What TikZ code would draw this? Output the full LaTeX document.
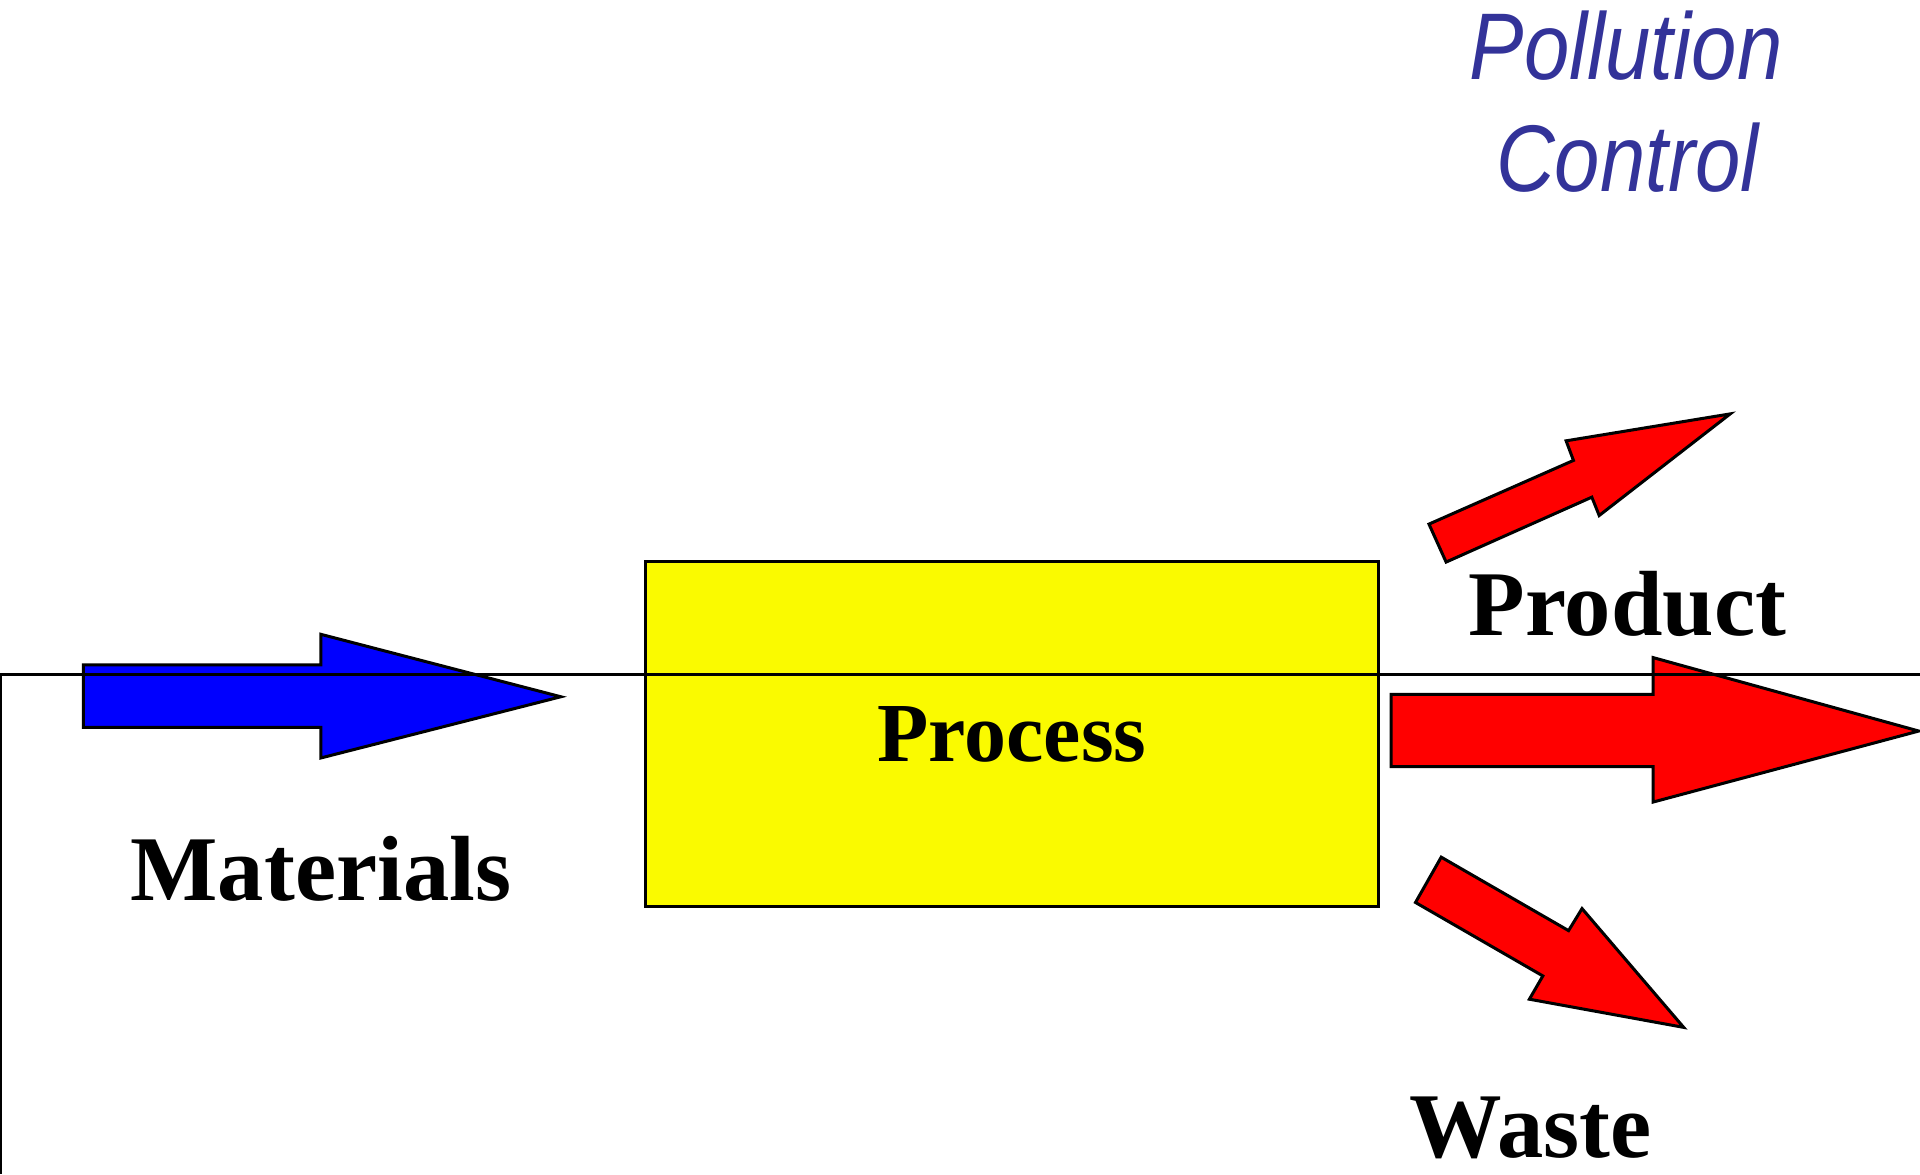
\documentclass[tikz,border=0pt]{standalone}
\usepackage{fontspec}
\setmainfont{Liberation Serif}
\newfontfamily\pcfont[FakeStretch=0.86]{Liberation Sans}
\definecolor{boxyellow}{RGB}{250,250,0}
\definecolor{pcblue}{RGB}{51,51,153}
\definecolor{arrowblue}{RGB}{0,0,255}
\definecolor{arrowred}{RGB}{255,0,0}
\begin{document}
\begin{tikzpicture}[x=0.01cm,y=-0.01cm,
  blockarrow/.style={draw=black,line width=0.7pt,line join=miter},
  lbl/.style={font=\fontsize{21.5}{24}\selectfont\bfseries,anchor=base,inner sep=0pt},
  pc/.style={font=\fontsize{22}{26}\selectfont\pcfont\itshape,text=pcblue,anchor=base,inner sep=0pt},
  procbox/.style={draw=black,line width=0.7pt,fill=boxyellow,minimum width=5.99cm,minimum height=2.81cm,inner sep=0pt,font=\fontsize{19.5}{22}\selectfont\bfseries},
  thinline/.style={draw=black,line width=0.6pt}]
\useasboundingbox (0,0) rectangle (1568,959);
% process box
\node[procbox] (proc) at (826.5,599.5) {Process};
% blue input arrow
\draw[blockarrow,fill=arrowblue] (68,543) -- (262,543) -- (262,518) -- (458,569) -- (262,619) -- (262,594) -- (68,594) -- cycle;
% red product arrow (right)
\draw[blockarrow,fill=arrowred] (1136,567) -- (1350,567) -- (1350,537) -- (1567,597) -- (1350,655) -- (1350,626) -- (1136,626) -- cycle;
% red upper arrow
\draw[blockarrow,fill=arrowred] (1181,459) -- (1167,428) -- (1285,376) -- (1279,360) -- (1413,338) -- (1306,421) -- (1300,406) -- cycle;
% red lower arrow
\draw[blockarrow,fill=arrowred] (1177,700) -- (1281,760) -- (1292,742) -- (1375,839) -- (1249,816) -- (1260,797) -- (1156,737) -- cycle;
% thin lines
\coordinate (lb) at (0.5,959);
\coordinate (lc) at (0.5,551);
\coordinate (rc) at (1568,551);
\draw[thinline] (lb) -- (lc) -- (rc);
% labels
\node[lbl] (materials) at (262,735) {Materials};
\node[lbl] (product) at (1329,519) {Product};
\node[lbl] (waste) at (1250,945) {Waste};
\node[pc] (pollution) at (1328,65) {Pollution};
\node[pc] (control) at (1329,156) {Control};
\end{tikzpicture}
\end{document}
